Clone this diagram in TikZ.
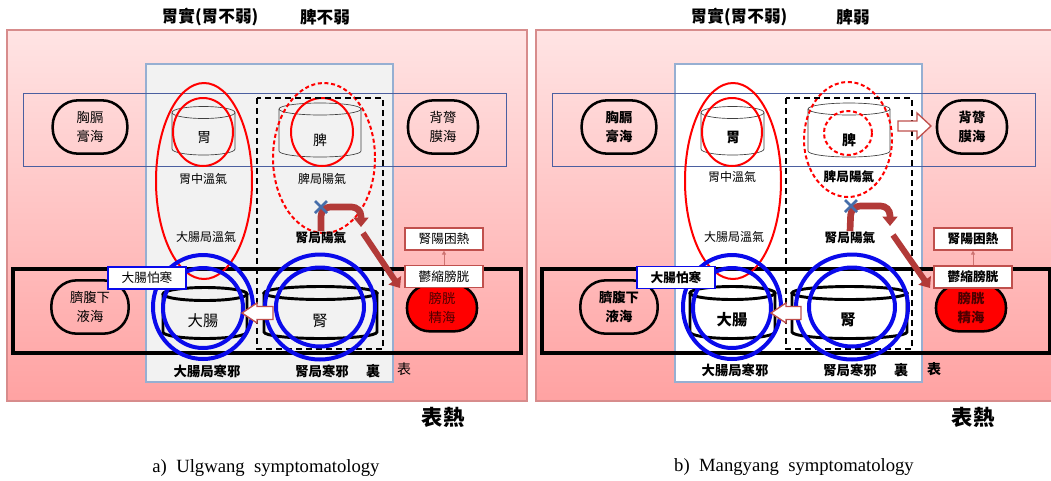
\documentclass[tikz,border=0pt]{standalone}
\usepackage{fontspec}
\setmainfont{Liberation Serif}
\newfontfamily\cjk{Noto Sans CJK TC}
\usetikzlibrary{arrows.meta}
\definecolor{pinktop}{RGB}{255,228,228}
\definecolor{pinkbot}{RGB}{255,162,162}
\definecolor{pinkedge}{RGB}{215,140,140}
\definecolor{grayfill}{RGB}{242,242,242}
\definecolor{grayedge}{RGB}{150,175,210}
\definecolor{bandedge}{RGB}{75,95,160}
\definecolor{ovalred}{RGB}{255,0,0}
\definecolor{ringblue}{RGB}{10,10,235}
\definecolor{arrred}{RGB}{178,58,56}
\definecolor{boxedge}{RGB}{192,80,77}
\definecolor{xblue}{RGB}{70,110,170}
\definecolor{bladtext}{rgb}{0.3,0,0}
\newcommand\mycyl[6]{%
  \draw[#1] (#2,#4) -- (#2,#5) arc[start angle=180,end angle=360,x radius={(#3-#2)/2*0.75pt},y radius={#6*0.75pt}] -- (#3,#4);
  \draw[#1] ({(#2+#3)/2},#4) ellipse[x radius={(#3-#2)/2*0.75pt},y radius={#6*0.75pt}];
}
\tikzset{
  txt/.style={inner sep=0pt, font=\cjk\fontsize{9}{11}\selectfont},
  txtb/.style={inner sep=0pt, font=\cjk\bfseries\fontsize{10}{12}\selectfont},
  ttl/.style={inner sep=0pt, font=\cjk\bfseries\fontsize{12.5}{14}\selectfont},
  ovalnode/.style={draw=black, line width=1.9pt, rounded corners=19pt, minimum height=40pt, inner sep=0pt, align=center, font=\cjk\fontsize{10}{14}\selectfont},
  bladshape/.style={draw=black, fill=ovalred, line width=1.9pt, rounded corners=17pt, minimum width=52.5pt, minimum height=35pt, inner sep=0pt},
  bladlabel/.style={inner sep=0pt, align=center, text=bladtext, font=\cjk\fontsize{10}{14}\selectfont},
  tbox/.style={draw=boxedge, line width=0.9pt, fill=white, minimum width=58.5pt, minimum height=16.5pt, inner sep=0pt, font=\cjk\fontsize{9.5}{11}\selectfont},
  redline/.style={draw=ovalred, line width=1.5pt},
  reddash/.style={draw=ovalred, line width=1.5pt, dash pattern=on 3pt off 2pt},
  bluering/.style={draw=ringblue, line width=3pt},
  thincyl/.style={draw=black!75, line width=0.5pt},
  thickcyl/.style={draw=black, line width=2.2pt},
  bigarrow/.style={draw=arrred, line width=5pt, -{Triangle[width=11pt,length=7pt]}},
  smallarr/.style={draw=boxedge!80, line width=0.7pt, -{Triangle[width=3pt,length=3pt]}},
  xmark/.style={draw=xblue, line width=2pt},
  blockarr/.style={fill=white, draw=boxedge, line width=1pt},
  captxt/.style={inner sep=0pt, font=\fontsize{14}{16}\selectfont}
}
\begin{document}
\begin{tikzpicture}[x=0.75pt,y=-0.75pt]
\useasboundingbox (0,0) rectangle (1051,480);
\fill[white] (0,0) rectangle (1051,480);
\begin{scope}
\clip (0,0) rectangle (1051,480);
% ================= panel a =================
\begin{scope}
\shadedraw[top color=pinktop,bottom color=pinkbot,draw=pinkedge,line width=0.8pt] (7,30) rectangle (527,401);
\filldraw[fill=grayfill,draw=grayedge,line width=0.9pt] (146,64) rectangle (393,382);
\draw[bandedge,line width=0.7pt] (23,93) rectangle (506,166);
\draw[line width=2.3pt] (13,269) rectangle (521,353);
\node[ttl] (a-t1) at (210,17) {胃實(胃不弱)};
\node[ttl] (a-t2) at (325,17) {脾不弱};
\node[ovalnode, minimum width=56pt] (a-chest) at (90,127) {胸膈\\膏海};
\node[ovalnode, minimum width=52.5pt] (a-back) at (443,127) {背膂\\膜海};
\node[ovalnode, minimum width=58pt] (a-belly) at (90,307) {臍腹下\\液海};
\node[bladshape] (a-blad) at (442,308) {};
\node[bladlabel] (a-bladt) at (a-blad) {膀胱\\精海};
% stomach
\mycyl{thincyl}{172}{235}{112.5}{149}{6}
\node[txt, font=\cjk\fontsize{10.5}{12}\selectfont] (a-wei) at (204,138) {胃};
\draw[redline] (203,132) ellipse[x radius=30,y radius=34];
\draw[redline] (204,181) ellipse[x radius=48,y radius=98];
\node[txt] (a-wei2) at (203,179) {胃中溫氣};
\node[txt] (a-dcw) at (206,237) {大腸局溫氣};
% spleen
\mycyl{thincyl}{279}{361}{109}{151}{6}
\node[txt, font=\cjk\fontsize{10.5}{12}\selectfont] (a-pi) at (320,140) {脾};
\draw[redline] (322,132) ellipse[x radius=31,y radius=34];
\draw[reddash] (324,158) ellipse[x radius=51,y radius=75];
\node[txt] (a-piyang) at (322,179) {脾局陽氣};
\draw[line width=1.6pt, dash pattern=on 4.5pt off 3pt] (257,98) rectangle (383,349);
\node[txtb, font=\cjk\bfseries\fontsize{9.5}{11}\selectfont] (a-shenyang) at (321,237.5) {腎局陽氣};
\coordinate (a-cross) at (321,207);
\coordinate (a-drop) at (361,227);
\draw[bigarrow, rounded corners=7pt] (a-shenyang.north) -- (a-cross) -- (a-cross -| a-drop) -- (a-drop);
\draw[xmark] (a-cross) +(-6,-6) -- +(6,6) (a-cross) +(-6,6) -- +(6,-6);
\coordinate (a-d1) at (363,233);
\coordinate (a-d2) at (400,288);
\draw[bigarrow, line width=4.5pt] (a-d1) -- (a-d2);
\node[tbox] (a-kun) at (444,239) {腎陽困熱};
\node[tbox] (a-yu) at (444,276.5) {鬱縮膀胱};
\draw[smallarr] (a-yu) -- (a-kun);
% lower organs
\mycyl{thickcyl}{163}{247}{294}{332}{6.5}
\mycyl{thickcyl}{264}{377}{293}{332}{6.5}
\draw[bluering] (203,307) ellipse[x radius=50,y radius=52];
\draw[bluering] (203,308) ellipse[x radius=40,y radius=40];
\draw[bluering] (320,307) ellipse[x radius=55,y radius=52.5];
\draw[bluering] (320,307) ellipse[x radius=44,y radius=39.5];
\draw[blockarr] (273,306.5) -- (257,306.5) -- (257,303) -- (242,313) -- (257,323) -- (257,319.5) -- (273,319.5) -- cycle;
\node[tbox, draw=ringblue, line width=1.2pt] (a-pa) at (147,278) {大腸怕寒};
\node[txt, font=\cjk\fontsize{11.5}{13}\selectfont] (a-dc) at (203,321) {大腸};
\node[txt, font=\cjk\fontsize{11.5}{13}\selectfont] (a-shen) at (320,321) {腎};
\node[txtb] (a-dchan) at (207,371) {大腸局寒邪};
\node[txtb] (a-shenhan) at (322,371) {腎局寒邪};
\node[txtb, font=\cjk\bfseries\fontsize{10.5}{12}\selectfont] (a-li) at (373,371) {裏};
\node[txt, font=\cjk\fontsize{10.5}{12}\selectfont] (a-biao) at (404,369) {表};
\node[txtb, font=\cjk\bfseries\fontsize{16}{18}\selectfont] (a-biaore) at (443,417) {表熱};
\node[captxt] (a-cap) at (266,468) {a)~ Ulgwang~ symptomatology};
\end{scope}
% ================= panel b =================
\begin{scope}[shift={(529,0)}]
\shadedraw[top color=pinktop,bottom color=pinkbot,draw=pinkedge,line width=0.8pt] (7,30) rectangle (527,401);
\filldraw[fill=white,draw=grayedge,line width=0.9pt] (146,64) rectangle (393,382);
\draw[bandedge,line width=0.7pt] (23,93) rectangle (506,166);
\draw[line width=2.3pt] (13,269) rectangle (521,353);
\node[ttl] (b-t1) at (210,17) {胃實(胃不弱)};
\node[ttl] (b-t2) at (324,17) {脾弱};
\node[ovalnode, minimum width=56pt, font=\cjk\bfseries\fontsize{10}{14}\selectfont] (b-chest) at (90,127) {胸膈\\膏海};
\node[ovalnode, minimum width=52.5pt, font=\cjk\bfseries\fontsize{10}{14}\selectfont] (b-back) at (443,127) {背膂\\膜海};
\node[ovalnode, minimum width=58pt, font=\cjk\bfseries\fontsize{10}{14}\selectfont] (b-belly) at (90,307) {臍腹下\\液海};
\node[bladshape] (b-blad) at (442,308) {};
\node[bladlabel, font=\cjk\bfseries\fontsize{10}{14}\selectfont] (b-bladt) at (b-blad) {膀胱\\精海};
% stomach
\mycyl{thincyl}{172}{235}{112.5}{149}{6}
\node[txtb, font=\cjk\bfseries\fontsize{10.5}{12}\selectfont] (b-wei) at (204,138) {胃};
\draw[redline] (203,132) ellipse[x radius=30,y radius=34];
\draw[redline] (204,181) ellipse[x radius=48,y radius=98];
\node[txt] (b-wei2) at (203,177) {胃中溫氣};
\node[txt] (b-dcw) at (205,237) {大腸局溫氣};
% spleen
\mycyl{thincyl}{279}{361}{109}{151}{6}
\node[txtb, font=\cjk\bfseries\fontsize{10.5}{12}\selectfont] (b-pi) at (320,140) {脾};
\draw[reddash] (319,133) ellipse[x radius=24,y radius=22];
\draw[reddash] (319,139.5) ellipse[x radius=44,y radius=57.5];
\node[txtb, font=\cjk\bfseries\fontsize{9.5}{11}\selectfont] (b-piyang) at (320,177) {脾局陽氣};
\draw[line width=1.6pt, dash pattern=on 4.5pt off 3pt] (257,98) rectangle (383,349);
\draw[blockarr] (369,121) -- (388,121) -- (388,113) -- (402,126) -- (388,139) -- (388,131) -- (369,131) -- cycle;
\node[txtb, font=\cjk\bfseries\fontsize{9.5}{11}\selectfont] (b-shenyang) at (321,237.5) {腎局陽氣};
\coordinate (b-cross) at (322,206);
\coordinate (b-drop) at (361,226);
\draw[bigarrow, rounded corners=7pt] (b-shenyang.north) -- (b-cross) -- (b-cross -| b-drop) -- (b-drop);
\draw[xmark] (b-cross) +(-6,-6) -- +(6,6) (b-cross) +(-6,6) -- +(6,-6);
\coordinate (b-d1) at (364,235);
\coordinate (b-d2) at (401,288);
\draw[bigarrow, line width=4.5pt] (b-d1) -- (b-d2);
\node[tbox, font=\cjk\bfseries\fontsize{9.5}{11}\selectfont] (b-kun) at (444,239) {腎陽困熱};
\node[tbox, font=\cjk\bfseries\fontsize{9.5}{11}\selectfont] (b-yu) at (444,277) {鬱縮膀胱};
\draw[smallarr] (b-yu) -- (b-kun);
% lower organs
\mycyl{thickcyl}{161}{246}{293}{332}{6.5}
\mycyl{thickcyl}{263}{378}{293}{332}{6.5}
\draw[bluering] (203,307) ellipse[x radius=49,y radius=52];
\draw[bluering] (203,308) ellipse[x radius=39,y radius=40];
\draw[bluering] (323,307) ellipse[x radius=56,y radius=52.5];
\draw[bluering] (323,307) ellipse[x radius=43,y radius=39.5];
\draw[blockarr] (272,306.5) -- (257,306.5) -- (257,303) -- (242,313) -- (257,323) -- (257,319.5) -- (272,319.5) -- cycle;
\node[tbox, draw=ringblue, line width=1.2pt, font=\cjk\bfseries\fontsize{9.5}{11}\selectfont] (b-pa) at (147,277.5) {大腸怕寒};
\node[txtb, font=\cjk\bfseries\fontsize{11.5}{13}\selectfont] (b-dc) at (203,320) {大腸};
\node[txtb, font=\cjk\bfseries\fontsize{11.5}{13}\selectfont] (b-shen) at (319,320) {腎};
\node[txtb] (b-dchan) at (206,370) {大腸局寒邪};
\node[txtb] (b-shenhan) at (321,370) {腎局寒邪};
\node[txtb, font=\cjk\bfseries\fontsize{10.5}{12}\selectfont] (b-li) at (372,370) {裏};
\node[txtb, font=\cjk\bfseries\fontsize{10.5}{12}\selectfont] (b-biao) at (405,369) {表};
\node[txtb, font=\cjk\bfseries\fontsize{16}{18}\selectfont] (b-biaore) at (444,417) {表熱};
\node[captxt] (b-cap) at (265,467) {b)~ Mangyang~ symptomatology};
\end{scope}
\end{scope}
\end{tikzpicture}
\end{document}
